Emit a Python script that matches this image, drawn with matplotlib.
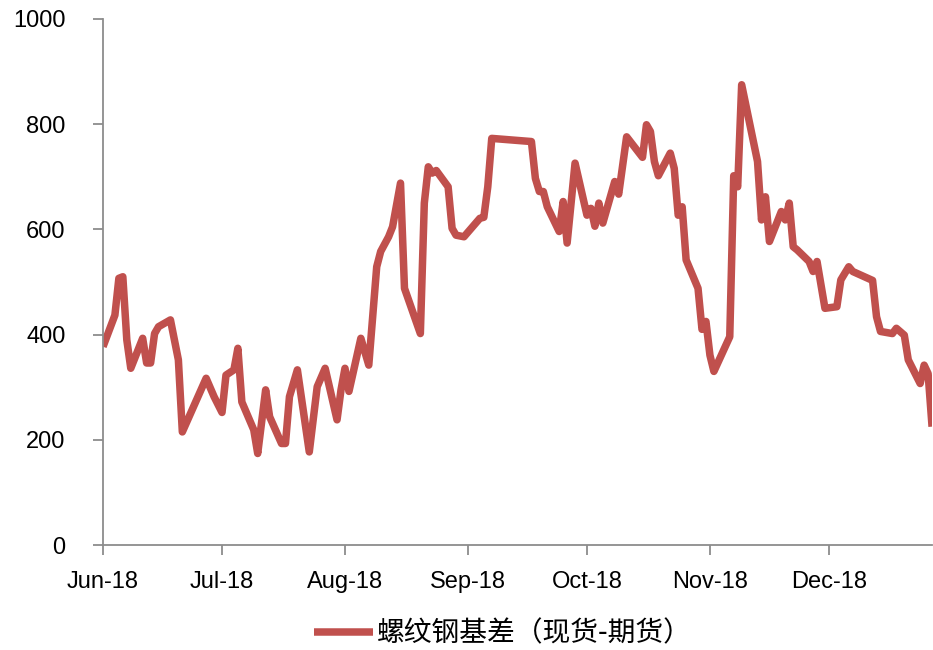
import numpy as np
import pandas as pd
import matplotlib
matplotlib.use("Agg")
import matplotlib.pyplot as plt
import matplotlib.dates as mdates

plt.rcParams['font.family'] = ['Liberation Sans', 'Noto Sans CJK SC', 'DejaVu Sans']

# 螺纹钢基差（现货-期货）
dates = [
    "2018-06-01", "2018-06-04", "2018-06-05", "2018-06-06", "2018-06-07", "2018-06-08",
    "2018-06-11", "2018-06-12", "2018-06-13", "2018-06-14", "2018-06-15", "2018-06-18",
    "2018-06-20", "2018-06-21", "2018-06-27", "2018-06-29", "2018-07-01", "2018-07-02",
    "2018-07-04", "2018-07-05", "2018-07-06", "2018-07-09", "2018-07-10", "2018-07-12",
    "2018-07-13", "2018-07-16", "2018-07-17", "2018-07-18", "2018-07-20", "2018-07-23",
    "2018-07-25", "2018-07-27", "2018-07-30", "2018-07-31", "2018-08-01", "2018-08-02",
    "2018-08-05", "2018-08-07", "2018-08-09", "2018-08-10", "2018-08-12", "2018-08-13",
    "2018-08-15", "2018-08-16", "2018-08-20", "2018-08-21", "2018-08-22", "2018-08-23",
    "2018-08-24", "2018-08-27", "2018-08-28", "2018-08-29", "2018-08-31", "2018-09-04",
    "2018-09-05", "2018-09-06", "2018-09-07", "2018-09-17", "2018-09-18", "2018-09-19",
    "2018-09-20", "2018-09-21", "2018-09-24", "2018-09-25", "2018-09-26", "2018-09-28",
    "2018-10-01", "2018-10-02", "2018-10-03", "2018-10-04", "2018-10-05", "2018-10-08",
    "2018-10-09", "2018-10-11", "2018-10-15", "2018-10-16", "2018-10-17", "2018-10-18",
    "2018-10-19", "2018-10-22", "2018-10-23", "2018-10-24", "2018-10-25", "2018-10-26",
    "2018-10-29", "2018-10-30", "2018-10-31", "2018-11-01", "2018-11-02", "2018-11-06",
    "2018-11-07", "2018-11-08", "2018-11-09", "2018-11-13", "2018-11-14", "2018-11-15",
    "2018-11-16", "2018-11-19", "2018-11-20", "2018-11-21", "2018-11-22", "2018-11-23",
    "2018-11-26", "2018-11-27", "2018-11-28", "2018-11-30", "2018-12-03", "2018-12-04",
    "2018-12-06", "2018-12-07", "2018-12-12", "2018-12-13", "2018-12-14", "2018-12-17",
    "2018-12-18", "2018-12-20", "2018-12-21", "2018-12-24", "2018-12-25", "2018-12-26",
    "2018-12-27",
]
basis = [
    377, 437, 507, 510, 390, 336,
    393, 346, 346, 402, 415, 428,
    352, 215, 317, 282, 252, 323,
    333, 374, 272, 219, 174, 295,
    244, 193, 193, 282, 333, 177,
    301, 336, 238, 295, 336, 292,
    393, 342, 529, 558, 586, 605,
    688, 488, 402, 650, 719, 707,
    712, 681, 602, 589, 586, 621,
    623, 681, 773, 767, 697, 672,
    672, 643, 596, 653, 574, 726,
    627, 640, 606, 650, 612, 691,
    667, 776, 737, 799, 786, 729,
    702, 745, 716, 627, 643, 542,
    488, 410, 425, 361, 330, 396,
    702, 681, 875, 729, 618, 662,
    577, 634, 618, 650, 567, 561,
    539, 520, 539, 450, 453, 504,
    529, 520, 503, 434, 406, 402,
    412, 399, 352, 307, 342, 326,
    225,
]
series_name = "螺纹钢基差（现货-期货）"

x = pd.to_datetime(dates)
red = "#C0504D"
grey = "#8C8C8C"

fig = plt.figure(figsize=(9.33, 6.5), dpi=100)
ax = fig.add_axes([0.1104, 0.1615, 0.8886, 0.8093])

ax.plot(x, basis, color=red, lw=5.4, solid_joinstyle='round',
        solid_capstyle='butt', label=series_name)

ax.set_ylim(0, 1000)
ax.set_yticks(np.arange(0, 1001, 200))
ax.set_xlim(pd.Timestamp("2018-06-01"), pd.Timestamp("2018-12-27"))
ax.xaxis.set_major_locator(mdates.MonthLocator())
ax.xaxis.set_major_formatter(mdates.DateFormatter("%b-%y"))

for s in ["top", "right"]:
    ax.spines[s].set_visible(False)
for s in ["left", "bottom"]:
    ax.spines[s].set_color(grey)
    ax.spines[s].set_linewidth(1.3)

ax.tick_params(axis='both', colors=grey, length=7, width=1.3, labelcolor='black',
               labelsize=17)
ax.tick_params(axis='y', pad=20)
ax.tick_params(axis='x', pad=12)

fig.legend(loc='center', bbox_to_anchor=(0.539, 0.025), frameon=False,
           prop={'family': ['Noto Sans CJK SC'], 'size': 20},
           handlelength=2.1, handletextpad=0.15, borderpad=0.1)

fig.savefig("out.png", dpi=100)
